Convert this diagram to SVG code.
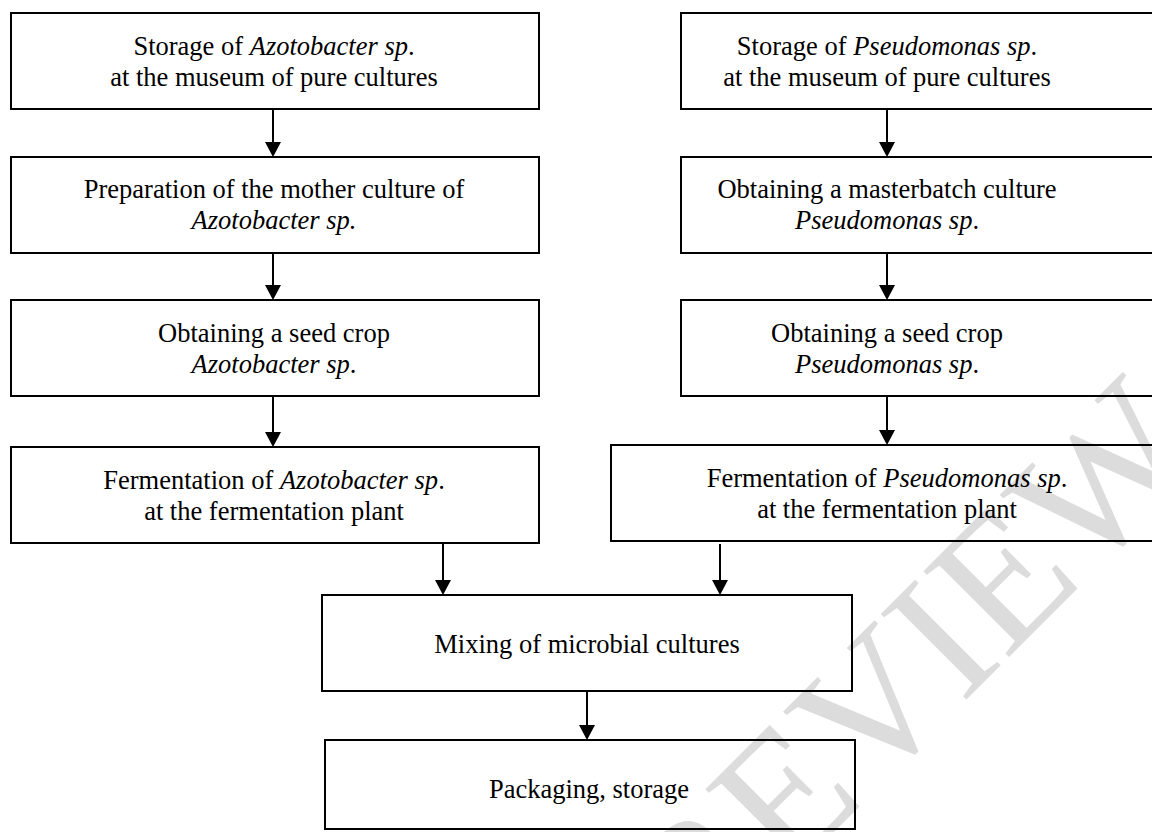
<svg xmlns="http://www.w3.org/2000/svg" width="1152" height="832" viewBox="0 0 1152 832">
<style>
.box{fill:none;stroke:#000;stroke-width:2}
.t{font-family:"Liberation Serif","Times New Roman",serif;font-size:26.5px;fill:#000;text-anchor:middle}
.i{font-style:italic}
.c{stroke:#000;stroke-width:2;fill:none;marker-end:url(#ah)}
.wm{font-family:"Liberation Serif","Times New Roman",serif;font-size:185px;fill:#dcdcdc;text-anchor:middle}
</style>
<defs>
<marker id="ah" markerUnits="userSpaceOnUse" markerWidth="16" markerHeight="16" refX="3" refY="8" orient="auto" viewBox="0 0 16 16">
<path d="M0,0 L15,8 L0,16 z" fill="#000"/>
</marker>
</defs>
<rect width="1152" height="832" fill="#fff"/>
<text class="wm" x="918" y="748" transform="rotate(-45 918 748)">PREVIEW</text>

<g id="a1"><rect class="box" x="11" y="13" width="528" height="96"/>
<text class="t" x="274" y="55">Storage of <tspan class="i">Azotobacter sp</tspan>.</text>
<text class="t" x="274" y="86">at the museum of pure cultures</text></g>
<g id="a2"><rect class="box" x="11" y="157" width="528" height="96"/>
<text class="t" x="274" y="198">Preparation of the mother culture of</text>
<text class="t i" x="274" y="229">Azotobacter sp.</text></g>
<g id="a3"><rect class="box" x="11" y="300" width="528" height="96"/>
<text class="t" x="274" y="342">Obtaining a seed crop</text>
<text class="t" x="274" y="373"><tspan class="i">Azotobacter sp</tspan>.</text></g>
<g id="a4"><rect class="box" x="11" y="447" width="528" height="96"/>
<text class="t" x="274" y="489">Fermentation of <tspan class="i">Azotobacter sp</tspan>.</text>
<text class="t" x="274" y="520">at the fermentation plant</text></g>

<g id="p1"><rect class="box" x="681" y="13" width="500" height="96"/>
<text class="t" x="887" y="55">Storage of <tspan class="i">Pseudomonas sp</tspan>.</text>
<text class="t" x="887" y="86">at the museum of pure cultures</text></g>
<g id="p2"><rect class="box" x="681" y="157" width="500" height="96"/>
<text class="t" x="887" y="198">Obtaining a masterbatch culture</text>
<text class="t" x="887" y="229"><tspan class="i">Pseudomonas sp</tspan>.</text></g>
<g id="p3"><rect class="box" x="681" y="300" width="500" height="96"/>
<text class="t" x="887" y="342">Obtaining a seed crop</text>
<text class="t" x="887" y="373"><tspan class="i">Pseudomonas sp</tspan>.</text></g>
<g id="p4"><rect class="box" x="611" y="445" width="570" height="96"/>
<text class="t" x="887" y="487">Fermentation of <tspan class="i">Pseudomonas sp</tspan>.</text>
<text class="t" x="887" y="518">at the fermentation plant</text></g>

<g id="mix"><rect class="box" x="322" y="595" width="530" height="96"/>
<text class="t" x="587" y="653">Mixing of microbial cultures</text></g>
<g id="pack"><rect class="box" x="325" y="740" width="530" height="89"/>
<text class="t" x="589" y="798">Packaging, storage</text></g>

<g id="connectors">
<path class="c" d="M273,109 V145"/>
<path class="c" d="M273,253 V288"/>
<path class="c" d="M273,396 V435"/>
<path class="c" d="M887,109 V145"/>
<path class="c" d="M887,253 V288"/>
<path class="c" d="M887,396 V433"/>
<path class="c" d="M443,543 V583"/>
<path class="c" d="M720,544 V583"/>
<path class="c" d="M587,691 V728"/>
</g>
</svg>
